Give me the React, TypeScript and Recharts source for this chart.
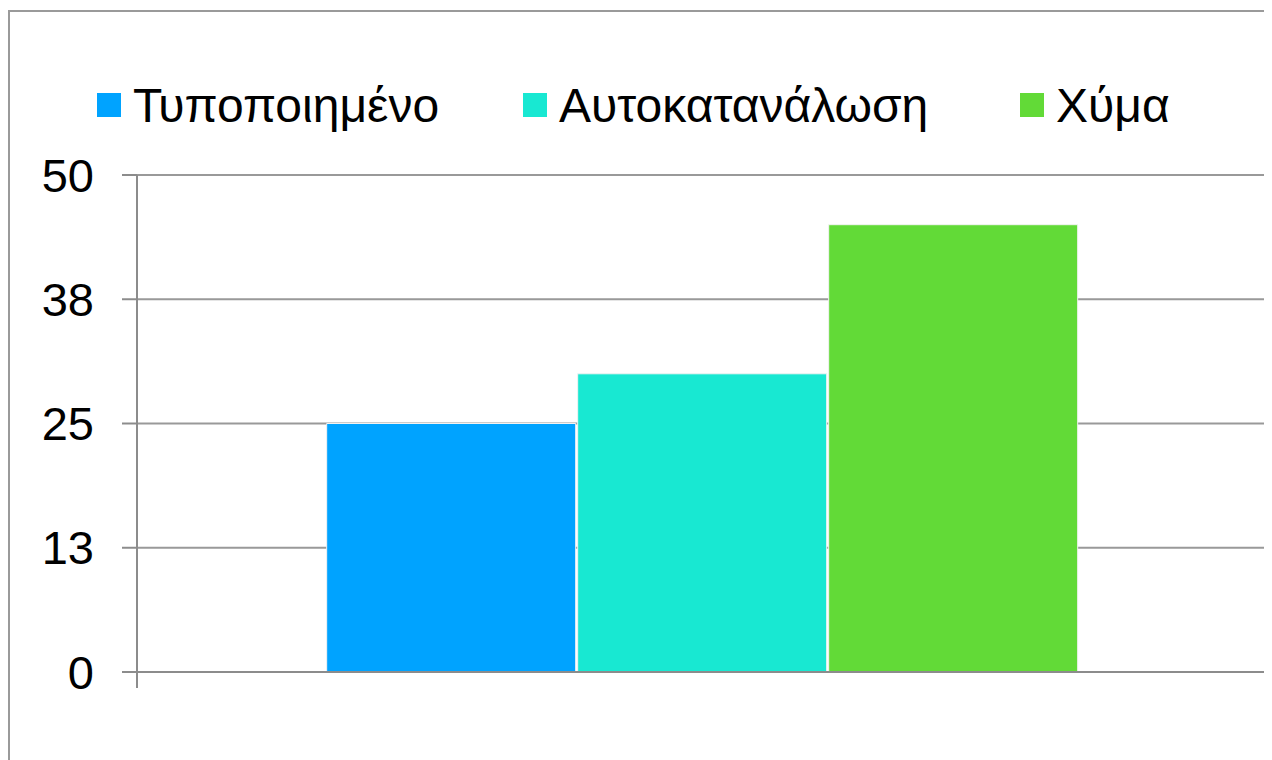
import { BarChart, Bar, XAxis, YAxis, CartesianGrid, Legend } from "recharts";

const categories = [""];
const typopoiimeno = [25];
const aftokatanalosi = [30];
const xyma = [45];
const yTicks = [0, 12.5, 25, 37.5, 50];

const series = [
  { key: "typ", name: "Τυποποιημένο", color: "#00A3FF", values: typopoiimeno },
  { key: "auto", name: "Αυτοκατανάλωση", color: "#18E8D2", values: aftokatanalosi },
  { key: "xyma", name: "Χύμα", color: "#62DA37", values: xyma },
];

const data = categories.map((c, i) => {
  const row: Record<string, string | number> = { cat: c };
  series.forEach((s) => (row[s.key] = s.values[i]));
  return row;
});

const FONT = "'Liberation Sans', Arial, sans-serif";
const legendWidths = [426, 497, 200];

function LegendBox() {
  return (
    <div style={{ height: 60, display: "flex", alignItems: "center", fontFamily: FONT, fontSize: 48, color: "#000", paddingLeft: 87 }}>
      {series.map((s, i) => (
        <div key={s.key} style={{ display: "flex", alignItems: "center", width: legendWidths[i], whiteSpace: "nowrap" }}>
          <span style={{ width: 24, height: 24, background: s.color, marginRight: 12, display: "inline-block", flex: "none" }} />
          <span>{s.name}</span>
        </div>
      ))}
    </div>
  );
}

// excel-style tick marks on the category boundaries instead of the centre
function EdgeTick(props: any) {
  const { x, y, payload } = props;
  const half = payload?.offset ?? 0;
  return (
    <g>
      <line x1={x - half} x2={x - half} y1={y} y2={y + 16} stroke="#8c8c8c" strokeWidth={2} />
      <line x1={x + half} x2={x + half} y1={y} y2={y + 16} stroke="#8c8c8c" strokeWidth={2} />
    </g>
  );
}

export default function App() {
  return (
    <div
      style={{
        width: 1264,
        height: 760,
        marginTop: 2,
        border: "2px solid #9a9a9a",
        boxSizing: "border-box",
        background: "#fff",
      }}
    >
      <BarChart
        width={1260}
        height={756}
        data={data}
        margin={{ top: 103, right: 4, bottom: 66, left: 0 }}
        barCategoryGap="16.8%"
        barGap={2}
      >
        <CartesianGrid vertical={false} stroke="#999" strokeWidth={2} />
        <XAxis
          dataKey="cat"
          height={30}
          tickLine={false}
          tickSize={0}
          tickMargin={0}
          tick={<EdgeTick />}
          interval={0}
          stroke="#8c8c8c"
          strokeWidth={2}
        />
        <YAxis
          domain={[0, 50]}
          ticks={yTicks}
          tickFormatter={(v) => `${Math.round(v)}`}
          width={127}
          tickSize={15}
          tickMargin={28}
          stroke="#8c8c8c"
          strokeWidth={2}
          tick={{ fill: "#000", fontSize: 47, fontFamily: FONT }}
          interval={0}
        />
        <Legend
          verticalAlign="top"
          content={() => <LegendBox />}
          wrapperStyle={{ top: 63, left: 0, height: 60 }}
        />
        {series.map((s) => (
          <Bar
            key={s.key}
            dataKey={s.key}
            name={s.name}
            fill={s.color}
            stroke="#f2f2f2"
            strokeWidth={1}
            isAnimationActive={false}
          />
        ))}
      </BarChart>
    </div>
  );
}
